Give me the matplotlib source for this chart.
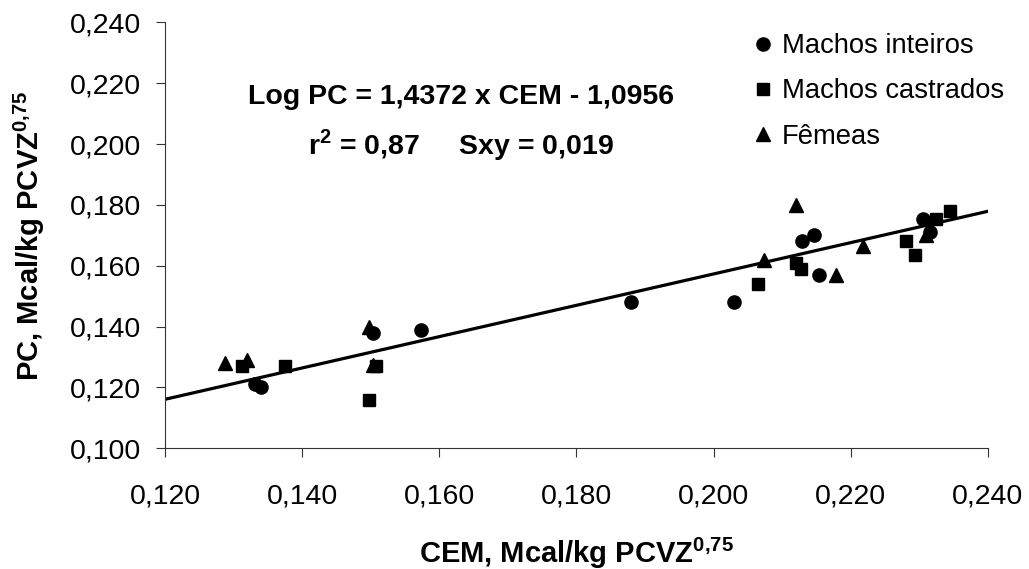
import matplotlib
matplotlib.use("Agg")
import matplotlib.pyplot as plt
from matplotlib.ticker import FuncFormatter, MultipleLocator

# --- Data ---
inteiros_x = [0.1331, 0.1340, 0.1503, 0.1573, 0.1879, 0.2030, 0.2129, 0.2146, 0.2153, 0.2306, 0.2315]
inteiros_y = [0.121, 0.120, 0.138, 0.139, 0.148, 0.148, 0.168, 0.170, 0.157, 0.1755, 0.171]

castrados_x = [0.1312, 0.1375, 0.1497, 0.1508, 0.2064, 0.2120, 0.2128, 0.2280, 0.2293, 0.2324, 0.2345]
castrados_y = [0.127, 0.127, 0.116, 0.127, 0.154, 0.161, 0.159, 0.168, 0.1634, 0.1755, 0.178]

femeas_x = [0.1287, 0.1319, 0.1498, 0.1503, 0.2073, 0.2120, 0.2178, 0.2218, 0.2310]
femeas_y = [0.128, 0.129, 0.140, 0.1275, 0.162, 0.180, 0.157, 0.1665, 0.170]

fit_x = [0.120, 0.240]
fit_y = [0.1161, 0.1779]

# --- Style ---
plt.rcParams["font.family"] = ["Liberation Sans", "DejaVu Sans"]
plt.rcParams["mathtext.fontset"] = "custom"
plt.rcParams["mathtext.rm"] = "Liberation Sans"
plt.rcParams["mathtext.bf"] = "Liberation Sans:bold"

FS = 20.5
comma = FuncFormatter(lambda v, _: f"{v:.3f}".replace(".", ","))

fig = plt.figure(figsize=(10.29, 5.69), dpi=100)
ax = fig.add_axes([0.1603, 0.2121, 0.7998, 0.7487])

ax.plot(fit_x, fit_y, color="black", linewidth=2.3, zorder=2)
ax.plot(inteiros_x, inteiros_y, "o", color="black", markersize=9.5, label="Machos inteiros", zorder=3)
ax.plot(castrados_x, castrados_y, "s", color="black", markersize=9, label="Machos castrados", zorder=3)
ax.plot(femeas_x, femeas_y, "^", color="black", markersize=10.5, label="Fêmeas", zorder=3)

ax.set_xlim(0.120, 0.240)
ax.set_ylim(0.100, 0.240)
ax.xaxis.set_major_locator(MultipleLocator(0.020))
ax.yaxis.set_major_locator(MultipleLocator(0.020))
ax.xaxis.set_major_formatter(comma)
ax.yaxis.set_major_formatter(comma)

for side in ("top", "right"):
    ax.spines[side].set_visible(False)
for side in ("left", "bottom"):
    ax.spines[side].set_linewidth(0.8)
    ax.spines[side].set_color("#333333")
ax.tick_params(axis="both", direction="out", length=6.5, width=0.8, color="#333333", labelsize=FS)
ax.tick_params(axis="x", pad=19)
ax.tick_params(axis="y", pad=11)

ax.set_xlabel(r"CEM, Mcal/kg PCVZ$^{\mathbf{0{,}75}}$", fontsize=21, fontweight="bold")
ax.xaxis.set_label_coords(0.5, -0.205)
ax.set_ylabel(r"PC, Mcal/kg PCVZ$^{\mathbf{0{,}75}}$", fontsize=21, fontweight="bold")
ax.yaxis.set_label_coords(-0.143, 0.5)

ax.text(0.36, 0.825, "Log PC = 1,4372 x CEM - 1,0956", transform=ax.transAxes,
        ha="center", va="center", fontsize=FS, fontweight="bold")
ax.text(0.36, 0.712, r"r$^{\mathbf{2}}$ = 0,87     Sxy = 0,019", transform=ax.transAxes,
        ha="center", va="center", fontsize=FS, fontweight="bold")

ax.legend(loc="upper left", bbox_to_anchor=(0.7035, 1.0), frameon=False, fontsize=19.7,
          handlelength=0.6, handletextpad=0.39, labelspacing=0.7, borderaxespad=0)

fig.savefig("out.png", dpi=100)
